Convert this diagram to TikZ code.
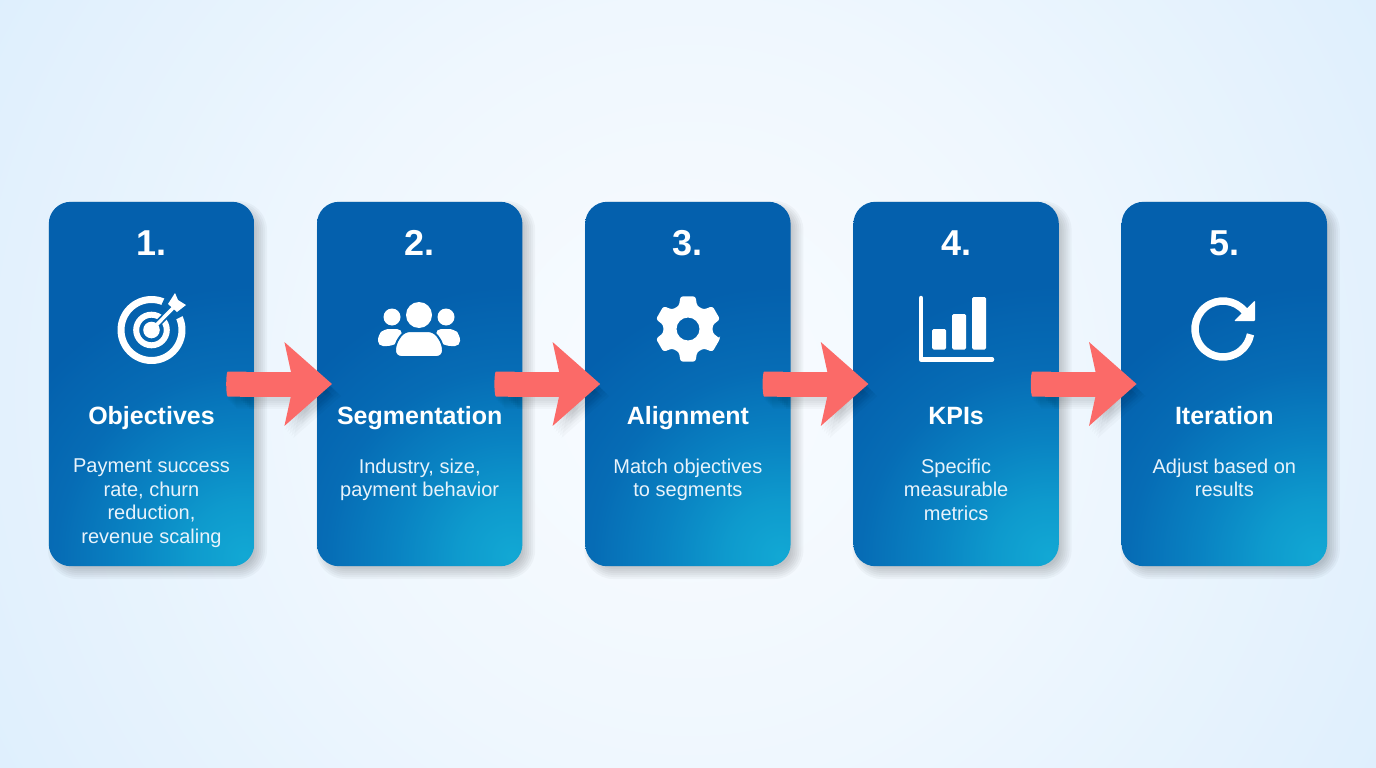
\documentclass[tikz,border=0pt]{standalone}
\usepackage{fontspec}
\setmainfont{Liberation Sans}
\usetikzlibrary{arrows.meta}

\definecolor{bginner}{HTML}{F9FCFF}
\definecolor{bgmid}{HTML}{EFF7FE}
\definecolor{bgedge}{HTML}{E3F1FD}
\definecolor{bgouter}{HTML}{DEEFFD}
\definecolor{cardtop}{HTML}{0460AD}
\definecolor{glowa}{HTML}{12A8D4}
\definecolor{glowb}{HTML}{0E9ACD}
\definecolor{glowc}{HTML}{0982C2}
\definecolor{glowd}{HTML}{066CB5}
\definecolor{arrowred}{HTML}{FB6A68}
\definecolor{desctext}{HTML}{E8F3FB}
\definecolor{iconblue}{HTML}{0565B0}

\pgfdeclareradialshading{bgshade}{\pgfpoint{0bp}{0bp}}{color(0bp)=(bginner); color(12bp)=(bgmid); color(21.5bp)=(bgedge); color(25bp)=(bgouter); color(50bp)=(bgouter)}
\pgfdeclareradialshading{cardglow}{\pgfpoint{0bp}{0bp}}{color(0bp)=(glowa); color(2.9bp)=(glowb); color(6.3bp)=(glowc); color(10bp)=(glowd); color(14.4bp)=(cardtop); color(50bp)=(cardtop)}

\tikzset{
	card/.style = {minimum width=205pt, minimum height=364pt, inner sep=0pt},
	numtext/.style = {text=white, anchor=base, font=\fontsize{36}{36}\selectfont\bfseries},
	titletext/.style = {text=white, anchor=base, font=\fontsize{25}{28}\selectfont\bfseries},
	desctext/.style = {text=desctext, align=center, anchor=north, inner sep=0pt, font=\fontsize{20}{23.7}\selectfont},
	flowarrow/.style = {color=arrowred, line width=25pt, {Round Cap[length=1.5pt]}-{Stealth[length=47pt, width=82pt, inset=8.6pt]}},
	iconline/.style = {draw=white, line cap=round, line join=round}
}

\begin{document}
\begin{tikzpicture}[x=1pt, y=1pt, yscale=-1]

\useasboundingbox (0,0) rectangle (1376,768);
\fill[bgouter] (0,0) rectangle (1376,768);
\shade[shading=bgshade] (690,390) circle (800);

\foreach \i/\title/\desc in {
	1/Objectives/{Payment success\\rate, churn\\reduction,\\revenue scaling},
	2/Segmentation/{Industry, size,\\payment behavior},
	3/Alignment/{Match objectives\\to segments},
	4/KPIs/{Specific\\measurable\\metrics},
	5/Iteration/{Adjust based on\\results}}
{
	\pgfmathsetmacro{\cx}{151.5 + 268.2 * (\i - 1)}
	% soft shadow
	\foreach \s in {7,5,...,-5}
	{
		\fill[black, opacity=0.03, rounded corners={22pt + \s pt}]
			({\cx - 102.5 + 6 - \s}, {202 + 6 - \s}) rectangle ({\cx + 102.5 + 6 + \s}, {566 + 6 + \s});
	}
	\node[card] (card\i) at (\cx, 384) {};
	\begin{scope}
		\clip[rounded corners=22pt] (card\i.south west) rectangle (card\i.north east);
		\shade[shading=cardglow] ([shift={(-10,-10)}]card\i.south east) circle (470);
	\end{scope}
	\node[numtext] (num\i) at (\cx, 255) {\i.};
	\node[titletext] (title\i) at (\cx, 424.5) {\title};
	\node[desctext] (desc\i) at (\cx, 458.5) {\desc};
}

% target
\draw[iconline, line width=7pt] (151.5,330) circle (30.5);
\draw[iconline, line width=6pt] (151.5,330) circle (15.3);
\draw[iconblue, line width=9pt] (151.5,330) ++(-68:30.5) arc (-68:-24:30.5);
\draw[iconblue, line width=7pt] (151.5,330) -- (172,309);
\fill[white] (151.5,330) circle (8.3);
\draw[iconline, line width=3.5pt] (151.5,330) -- (173,308);
\fill[white] (168,304) -- (175,293) -- (178,300) -- (186,305) -- (177,312) -- cycle;

% people
\fill[white] (392,317) circle (8.5);
\fill[white] (446,317) circle (8.5);
\fill[white, rounded corners=5pt] (378,346) -- (378,335) -- (384,329) -- (402,329) -- (402,340) -- (392,346) -- cycle;
\fill[white, rounded corners=5pt] (460,346) -- (460,335) -- (454,329) -- (436,329) -- (436,340) -- (446,346) -- cycle;
\fill[white] (419,315) circle (13);
\filldraw[fill=white, draw=iconblue, line width=2pt, rounded corners=6pt] (395,357) -- (395,344) -- (404,331) -- (434,331) -- (443,344) -- (443,357) -- cycle;

% gear
\begin{scope}[shift={(688,329)}]
	\fill[white, even odd rule, rounded corners=2.5pt]
		(17:33.5)
		\foreach \a in {30,90,...,330} { -- (\a-13:33.5) -- (\a+13:33.5) -- (\a+21:25) -- (\a+39:25) } -- cycle
		(0,0) circle (11.5);
\end{scope}

% chart
\draw[iconline, line width=4.5pt] (921,298) -- (921,359.5) -- (992,359.5);
\foreach \bx/\by in {932/329, 952/314, 972/297}
{
	\fill[white, rounded corners=1.5pt] (\bx,\by) rectangle (\bx + 14, 349.5);
}

% refresh
\draw[iconline, line width=7.5pt, line cap=butt] (1223,329) ++(-39:28) arc (-39:-349:28);
\fill[white, rounded corners=1pt] (1255,300.5) -- (1255,321) -- (1234,321) -- cycle;

% arrows between the cards
\foreach \i in {1,...,4}
{
	\pgfmathtruncatemacro{\j}{\i + 1}
	\foreach \s in {9,7,...,1}
	{
		\draw[flowarrow, color=black, opacity=0.025] ([shift={(-28 + \s, 3 + \s)}]card\i.east) -- ([shift={(15 + \s, 3 + \s)}]card\j.west);
	}
	\draw[flowarrow] ([xshift=-28pt]card\i.east) -- ([xshift=15pt]card\j.west);
}

\end{tikzpicture}
\end{document}
